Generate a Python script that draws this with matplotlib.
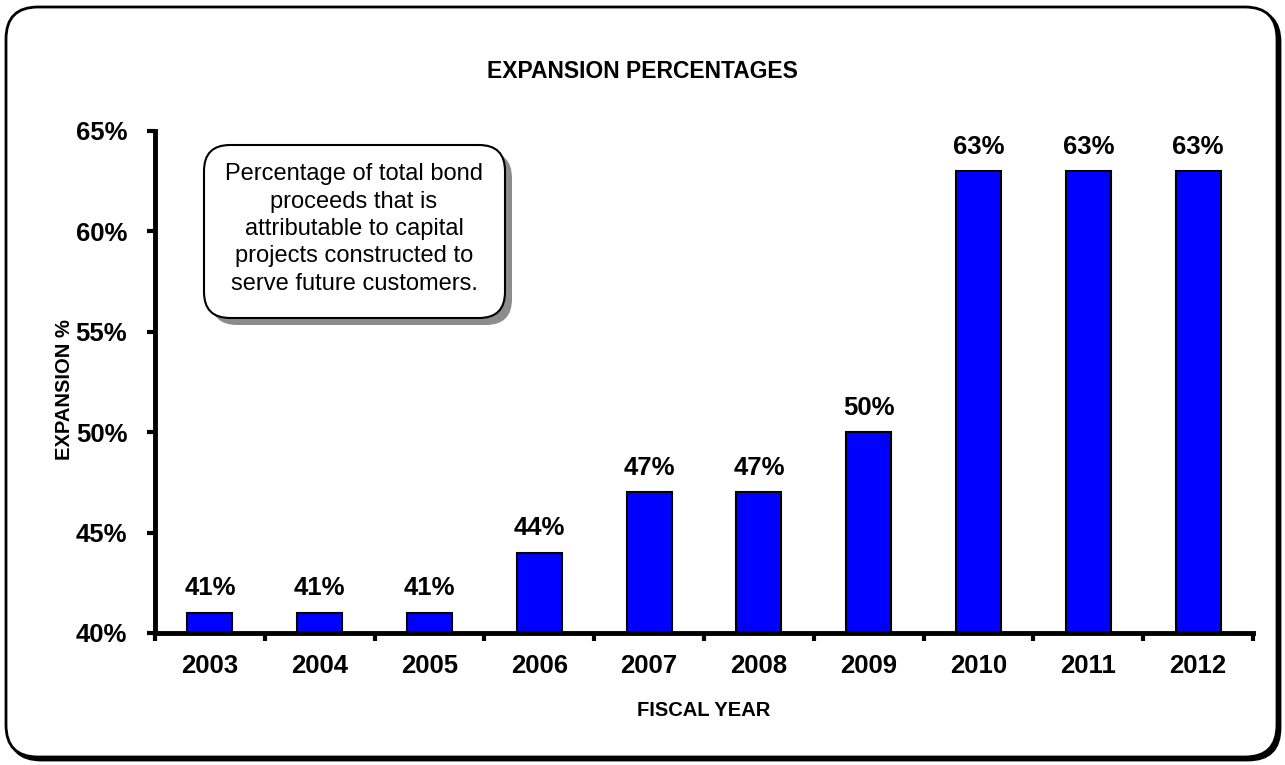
import matplotlib
matplotlib.use("Agg")
from matplotlib import pyplot as plt
from matplotlib.patches import FancyBboxPatch

plt.rcParams['font.family'] = ['Liberation Sans', 'DejaVu Sans']

years = ['2003', '2004', '2005', '2006', '2007', '2008', '2009', '2010', '2011', '2012']
expansion = [41, 41, 41, 44, 47, 47, 50, 63, 63, 63]
y_ticks = [40, 45, 50, 55, 60, 65]
note = ("Percentage of total bond\nproceeds that is\nattributable to capital\n"
        "projects constructed to\nserve future customers.")

W, H = 1285, 765
fig = plt.figure(figsize=(W / 100., H / 100.), dpi=100)


def pixel_axes(z):
    # full-figure axes in pixel units, y running downward
    a = fig.add_axes([0, 0, 1, 1], zorder=z)
    a.set_xlim(0, W)
    a.set_ylim(H, 0)
    a.set_facecolor('none')
    a.axis('off')
    return a


# outer rounded frame with a dark shadow
bg = pixel_axes(0)
bg.add_patch(FancyBboxPatch((9, 10), W - 14, H - 15,
                            boxstyle="round,pad=0,rounding_size=32",
                            facecolor='black', edgecolor='black', lw=2))
bg.add_patch(FancyBboxPatch((6, 7), W - 14, H - 15,
                            boxstyle="round,pad=0,rounding_size=32",
                            facecolor='white', edgecolor='black', lw=2))

ax = fig.add_axes([155. / W, 1 - 633. / H, (1253. - 155.) / W, (633. - 131.) / H], zorder=1)
ax.set_facecolor('none')

pos = range(len(years))
ax.bar(pos, expansion, width=0.41, color='#0000FF', edgecolor='black', linewidth=1.5)
for x, v in zip(pos, expansion):
    ax.annotate('%d%%' % v, (x, v), xytext=(0, 9), textcoords='offset points',
                ha='center', va='bottom', fontsize=18.5, fontweight='bold')

ax.set_xlim(-0.5, len(years) - 0.5)
ax.set_ylim(40, 65)
ax.set_yticks(y_ticks)
ax.set_yticklabels(['%d%%' % t for t in y_ticks], fontsize=18.5, fontweight='bold')
ax.set_xticks(list(pos))
ax.set_xticklabels(years, fontsize=18.5, fontweight='bold')
ax.set_xticks([p - 0.5 for p in range(len(years) + 1)], minor=True)
ax.tick_params(axis='x', which='major', length=0, pad=15)
ax.tick_params(axis='x', which='minor', length=6, width=3, direction='out')
ax.tick_params(axis='y', length=6, width=3, direction='out', pad=14)

for side in ['top', 'right']:
    ax.spines[side].set_visible(False)
for side in ['left', 'bottom']:
    ax.spines[side].set_linewidth(3.5)
    ax.spines[side].set_capstyle('projecting')

fig.text(0.5, 1 - 72. / H, 'EXPANSION PERCENTAGES', ha='center', va='center',
         fontsize=16.5, fontweight='bold')
fig.text(65. / W, 1 - 390. / H, 'EXPANSION %', ha='center', va='center',
         rotation=90, fontsize=14.5, fontweight='bold')
fig.text(704. / W, 1 - 711. / H, 'FISCAL YEAR', ha='center', va='center',
         fontsize=14.5, fontweight='bold')

# callout note with grey drop shadow
top = pixel_axes(2)
top.add_patch(FancyBboxPatch((211, 152), 301, 173,
                             boxstyle="round,pad=0,rounding_size=26",
                             facecolor='#8c8c8c', edgecolor='none'))
top.add_patch(FancyBboxPatch((204, 145), 301, 173,
                             boxstyle="round,pad=0,rounding_size=26",
                             facecolor='white', edgecolor='black', lw=1.5))
top.text(354, 229, note, ha='center', va='center', fontsize=17, linespacing=1.32)

fig.savefig('out.png', dpi=100)
